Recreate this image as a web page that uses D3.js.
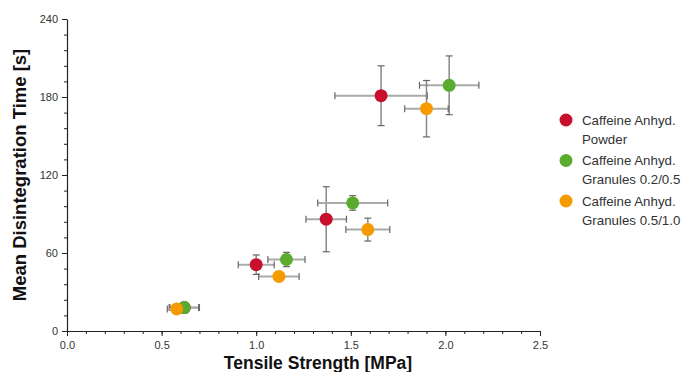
<!DOCTYPE html>
<html><head><meta charset="utf-8">
<script src="https://cdn.jsdelivr.net/npm/d3@7"></script>
<style>body{margin:0;background:#fff}svg{display:block}</style>
</head><body><svg id="c" width="684" height="372"></svg>
<script>
const seriesNames = [["Caffeine Anhyd.","Powder"],["Caffeine Anhyd.","Granules 0.2/0.5"],["Caffeine Anhyd.","Granules 0.5/1.0"]];
const seriesColors = ["#c8102e","#5aab2e","#f59b00"];
const powderX = [0.62, 1.00, 1.37, 1.66];
const powderY = [18, 51, 86, 181];
const powderXErr = [0.08, 0.095, 0.107, 0.244];
const powderYErr = [2, 7.5, 25, 23];
const gran1X = [0.62, 1.16, 1.51, 2.02];
const gran1Y = [18, 55, 98.5, 189];
const gran1XErr = [0.076, 0.098, 0.185, 0.157];
const gran1YErr = [2, 5.5, 5.6, 22.6];
const gran2X = [0.58, 1.12, 1.59, 1.90];
const gran2Y = [17, 42, 78, 171];
const gran2XErr = [0.05, 0.107, 0.116, 0.115];
const gran2YErr = [1.5, 3, 8.8, 21.7];
const xTicks = [0, 0.5, 1.0, 1.5, 2.0, 2.5];
const yTicks = [0, 60, 120, 180, 240];

const svg = d3.select("#c");
const x = d3.scaleLinear().domain([0, 2.5]).range([67, 540]);
const y = d3.scaleLinear().domain([0, 240]).range([331, 19]);
const font = "'Liberation Sans', Arial, sans-serif";

// minor ticks
svg.append("g").attr("transform","translate(0,331)")
  .call(d3.axisBottom(x).tickValues(d3.range(0, 2.51, 0.1)).tickSize(3).tickFormat(""))
  .call(g=>g.selectAll("line").attr("stroke","#222"))
  .call(g=>g.select(".domain").remove());
svg.append("g").attr("transform","translate(67,0)")
  .call(d3.axisLeft(y).tickValues(d3.range(0, 241, 12)).tickSize(3).tickFormat(""))
  .call(g=>g.selectAll("line").attr("stroke","#222"))
  .call(g=>g.select(".domain").remove());

const xa = svg.append("g").attr("transform","translate(0,331)")
  .call(d3.axisBottom(x).tickValues(xTicks).tickSize(5).tickSizeOuter(0).tickPadding(5).tickFormat(d3.format(".1f")));
const ya = svg.append("g").attr("transform","translate(67,0)")
  .call(d3.axisLeft(y).tickValues(yTicks).tickSize(5).tickSizeOuter(0).tickPadding(4).tickFormat(d3.format("d")));
[xa, ya].forEach(a=>{
  a.select(".domain").attr("stroke","#222").attr("stroke-width",1.2);
  a.selectAll(".tick line").attr("stroke","#222");
  a.selectAll("text").attr("font-family",font).attr("font-size",11).attr("fill","#333");
});

svg.append("text").attr("x",318).attr("y",369).attr("text-anchor","middle")
  .attr("font-family",font).attr("font-weight","bold").attr("font-size",17.5).attr("fill","#111")
  .text("Tensile Strength [MPa]");
svg.append("text").attr("transform","translate(26,175) rotate(-90)").attr("text-anchor","middle")
  .attr("font-family",font).attr("font-weight","bold").attr("font-size",18.5).attr("fill","#111")
  .text("Mean Disintegration Time [s]");

const series = [
  {xs:powderX, ys:powderY, xe:powderXErr, ye:powderYErr},
  {xs:gran1X, ys:gran1Y, xe:gran1XErr, ye:gran1YErr},
  {xs:gran2X, ys:gran2Y, xe:gran2XErr, ye:gran2YErr}
];
const cap = 3.5;
series.forEach((s, si)=>{
  const g = svg.append("g");
  s.xs.forEach((xv,i)=>{
    const yv = s.ys[i], dx = s.xe[i], dy = s.ye[i];
    g.append("line").attr("x1",x(xv-dx)).attr("x2",x(xv+dx)).attr("y1",y(yv)).attr("y2",y(yv))
      .attr("stroke","#aaa").attr("stroke-width",2);
    [xv-dx, xv+dx].forEach(e=>g.append("line").attr("x1",x(e)).attr("x2",x(e)).attr("y1",y(yv)-cap).attr("y2",y(yv)+cap).attr("stroke","#666").attr("stroke-width",1.2));
    g.append("line").attr("x1",x(xv)).attr("x2",x(xv)).attr("y1",y(yv-dy)).attr("y2",y(yv+dy))
      .attr("stroke","#888").attr("stroke-width",1.5);
    [yv-dy, yv+dy].forEach(e=>g.append("line").attr("x1",x(xv)-cap).attr("x2",x(xv)+cap).attr("y1",y(e)).attr("y2",y(e)).attr("stroke","#666").attr("stroke-width",1.2));
  });
});
series.forEach((s, si)=>{
  svg.append("g").selectAll("circle").data(s.xs).join("circle")
    .attr("cx",d=>x(d)).attr("cy",(d,i)=>y(s.ys[i])).attr("r",6.5).attr("fill",seriesColors[si]);
});

// legend
const lg = svg.append("g");
seriesNames.forEach((nm, i)=>{
  const cy = 120 + i*40.5;
  lg.append("circle").attr("cx",566).attr("cy",cy).attr("r",6.5).attr("fill",seriesColors[i]);
  nm.forEach((t, j)=>{
    lg.append("text").attr("x",582).attr("y",cy+4.5+j*19).attr("font-family",font).attr("font-size",13.3)
      .attr("fill","#333").text(t);
  });
});
</script></body></html>
